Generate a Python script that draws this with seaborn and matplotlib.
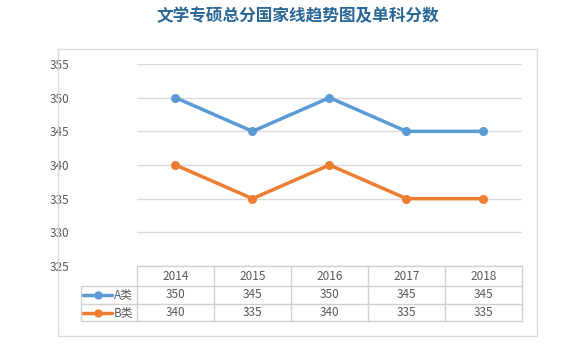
import matplotlib
matplotlib.use("Agg")
import matplotlib.pyplot as plt
import matplotlib.transforms as mtransforms
from matplotlib.lines import Line2D
from matplotlib.patches import Rectangle
import seaborn as sns
import pandas as pd

# Data
years = [2014, 2015, 2016, 2017, 2018]
series_names = ["A类", "B类"]
scores_a = [350, 345, 350, 345, 345]
scores_b = [340, 335, 340, 335, 335]
y_ticks = [325, 330, 335, 340, 345, 350, 355]
title = "文学专硕总分国家线趋势图及单科分数"

colors = {"A类": "#5b9bd5", "B类": "#ed7d31"}

sns.set_theme(style="white")
plt.rcParams["font.family"] = ["Noto Sans CJK SC", "DejaVu Sans"]

df = pd.DataFrame({
    "year": years * 2,
    "score": scores_a + scores_b,
    "type": [series_names[0]] * len(years) + [series_names[1]] * len(years),
})

W, H = 584, 346
fig = plt.figure(figsize=(W / 100, H / 100), dpi=100)
fig.patch.set_facecolor("white")

# plot area in pixels
px_l, px_r, px_t, px_b = 137, 522, 64, 266
ax = fig.add_axes([px_l / W, 1 - px_b / H, (px_r - px_l) / W, (px_b - px_t) / H])

sns.lineplot(data=df, x="year", y="score", hue="type", palette=colors,
             marker="o", markersize=6.5, markeredgewidth=0, linewidth=2.5,
             ax=ax, legend=False, zorder=3)

ax.set_xlim(years[0] - 0.5, years[-1] + 0.5)
ax.set_ylim(y_ticks[0], y_ticks[-1])
ax.set_yticks(y_ticks)
ax.set_xticks([])
ax.set_xlabel("")
ax.set_ylabel("")
ax.grid(axis="y", color="#d9d9d9", linewidth=1)
ax.grid(axis="x", visible=False)
for s in ax.spines.values():
    s.set_visible(False)
ax.tick_params(axis="y", length=0, pad=49, labelsize=8.5, labelcolor="#595959")

# outer chart border
fig.patches.append(Rectangle((58 / W, 1 - 336 / H), (537 - 58) / W, (336 - 49) / H,
                             transform=fig.transFigure, fill=False,
                             edgecolor="#d9d9d9", linewidth=1, zorder=0))

# data table under the plot
ax_h = px_b - px_t
def ya(px):
    return 1 - (px - px_t) / ax_h

blend = mtransforms.blended_transform_factory(ax.transData, ax.transAxes)
tcol = "#d0d0d0"
tbl_left = (81 - px_l) / (px_r - px_l)
row_y = [ya(266), ya(286), ya(304), ya(321)]
x0, x1 = years[0] - 0.5, years[-1] + 0.5

# horizontal lines
ax.add_line(Line2D([x0, x1], [row_y[0]] * 2, transform=blend, color=tcol, lw=1, clip_on=False))
for yy in row_y[1:]:
    ax.add_line(Line2D([tbl_left, 1], [yy] * 2, transform=ax.transAxes, color=tcol, lw=1, clip_on=False))
# vertical lines
for i in range(len(years) + 1):
    xx = years[0] - 0.5 + i
    ax.add_line(Line2D([xx, xx], [row_y[0], row_y[3]], transform=blend, color=tcol, lw=1, clip_on=False))
ax.add_line(Line2D([tbl_left, tbl_left], [row_y[1], row_y[3]], transform=ax.transAxes,
                   color=tcol, lw=1, clip_on=False))

txt_kw = dict(ha="center", va="center", fontsize=8.5, color="#595959", clip_on=False)
hdr_y = (row_y[0] + row_y[1]) / 2
a_y = (row_y[1] + row_y[2]) / 2
b_y = (row_y[2] + row_y[3]) / 2
for yr, a, b in zip(years, scores_a, scores_b):
    ax.text(yr, hdr_y, str(yr), transform=blend, **txt_kw)
    ax.text(yr, a_y, str(a), transform=blend, **txt_kw)
    ax.text(yr, b_y, str(b), transform=blend, **txt_kw)

# legend keys inside the table
key_x0 = (83 - px_l) / (px_r - px_l)
key_x1 = (112 - px_l) / (px_r - px_l)
key_m = (98 - px_l) / (px_r - px_l)
lab_x = (114 - px_l) / (px_r - px_l)
for name, yy in zip(series_names, [a_y, b_y]):
    c = colors[name]
    ax.add_line(Line2D([key_x0, key_x1], [yy, yy], transform=ax.transAxes, color=c,
                       lw=2.5, clip_on=False))
    ax.add_line(Line2D([key_m], [yy], transform=ax.transAxes, color=c, marker="o",
                       markersize=6, markeredgewidth=0, clip_on=False))
    ax.text(lab_x, yy, name, transform=ax.transAxes, ha="left", va="center",
            fontsize=8.5, color="#595959", clip_on=False)

fig.text(298 / W, 1 - 16 / H, title, ha="center", va="center", fontsize=12,
         fontweight="bold", color="#2a6696")

fig.savefig("out.png", dpi=100, facecolor="white")
